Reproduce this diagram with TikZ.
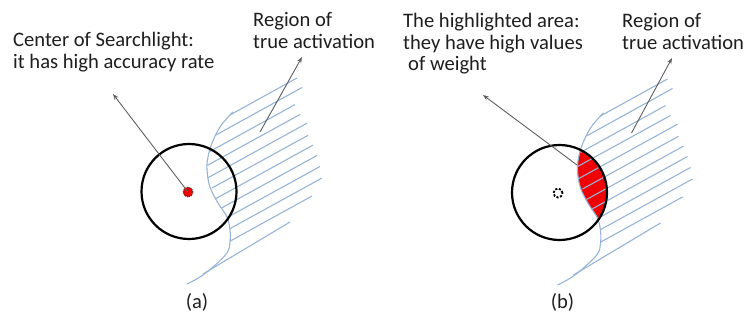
\documentclass[tikz,border=0pt]{standalone}
\usepackage{fontspec}
\setmainfont{Carlito}
\usetikzlibrary{arrows.meta}
\definecolor{txtc}{RGB}{30,30,30}
\definecolor{hatchc}{RGB}{150,180,215}
\definecolor{arrc}{RGB}{95,95,95}
\definecolor{redc}{RGB}{240,0,0}
\newcommand{\actregion}{%
  \draw[hatchc, line width=1.1pt] plot[smooth, tension=0.6] coordinates {(233,112) (230,115) (220,127) (212,143) (208,157) (207,170) (210,187) (218,203) (227,217) (230,230) (230,242) (227,253) (213,267) (200,277) (187,284)};
  \foreach \xa/\ya/\xb/\yb in {230/115/297/78, 216/135/302/87.5, 210/151.4/295/104.6, 207.5/165.3/300/114.5, 208/177.7/307/123.2, 212/188/308/135.3, 216/198.5/313/145.1, 221/208.3/317/155.5, 227/217.6/320/166.5, 230/228.6/322/178, 230/241.2/312/196, 203/274/290/222}
    {\draw[hatch] (\xa,\ya) -- (\xb,\yb);}
}
\begin{document}
\begin{tikzpicture}[x=1pt,y=-1pt,
  lbl/.style={anchor=base west, inner sep=0pt, font=\fontsize{20.6}{21}\selectfont, text=txtc},
  panelcap/.style={anchor=base, inner sep=0pt, font=\fontsize{20.6}{21}\selectfont, text=txtc},
  hatch/.style={draw=hatchc, line width=1.1pt},
  bigcirc/.style={circle, draw=black, line width=2.2pt, minimum size=95pt, inner sep=0pt},
  pointer/.style={draw=arrc, line width=0.9pt, -{Stealth[length=6pt,width=4.5pt]}},
]
\useasboundingbox (0,0) rectangle (752,324);

% ---------- panel (a) ----------
\actregion
\node[bigcirc] (ca) at (189,191.5) {};
\node[circle, fill=redc, draw=black!75, densely dotted, line width=1pt, minimum size=10pt, inner sep=0pt] (dota) at (188,192) {};
\coordinate (ha) at (113,94);
\draw[pointer] (dota.center) -- (ha);
\coordinate (ta) at (260,132);
\coordinate (ra) at (302,57);
\draw[pointer] (ta) -- (ra);

\node[lbl] (la1) at (13,46.7) {Center of Searchlight:};
\node[lbl] (la2) at (13,68) {it has high accuracy rate};
\node[lbl] (ra1) at (253,26.7) {Region of};
\node[lbl] (ra2) at (253,48) {true activation};
\node[panelcap] (capa) at (197,308) {(a)};

% ---------- panel (b) ----------
\begin{scope}[shift={(370.5,1)}]
  \begin{scope}
    \clip (189,191.5) circle[radius=47.5];
    \fill[redc] plot[smooth, tension=0.6] coordinates {(233,112) (230,115) (220,127) (212,143) (208,157) (207,170) (210,187) (218,203) (227,217) (230,230) (230,242) (227,253) (213,267) (200,277) (187,284)} -- (330,290) -- (330,100) -- cycle;
  \end{scope}
  \actregion
  \node[bigcirc] (cb) at (189,191.5) {};
  \node[circle, draw=black, dash pattern=on 2.2pt off 1.6pt, line width=1.8pt, minimum size=9pt, inner sep=0pt] (dotb) at (187.5,192) {};
  \coordinate (sb) at (206.5,164);
  \coordinate (hb) at (112.5,94);
  \draw[pointer] (sb) -- (hb);
  \coordinate (tb) at (261,132);
  \coordinate (rb) at (301.5,57);
  \draw[pointer] (tb) -- (rb);
\end{scope}

\node[lbl] (lb1) at (403,27.7) {The highlighted area:};
\node[lbl] (lb2) at (403,49) {they have high values};
\node[lbl] (lb3) at (408,70.5) {of weight};
\node[lbl] (rb1) at (622,27.7) {Region of};
\node[lbl] (rb2) at (622,49) {true activation};
\node[panelcap] (capb) at (562.5,308) {(b)};
\end{tikzpicture}
\end{document}
